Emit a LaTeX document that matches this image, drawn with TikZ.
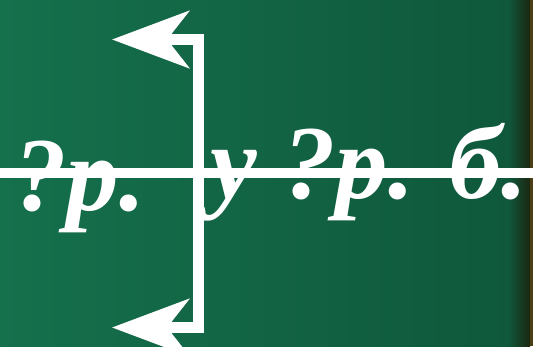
\documentclass[tikz,border=0pt]{standalone}
\usepackage{fontspec}
\newfontfamily\boardfont{Liberation Serif}[UprightFont={* Bold Italic}]
\usetikzlibrary{arrows.meta}
\definecolor{boardleft}{RGB}{21,112,76}
\definecolor{boardright}{RGB}{15,88,60}
\definecolor{boardedge}{RGB}{28,38,16}
\definecolor{frame}{RGB}{75,62,22}

\begin{document}
\begin{tikzpicture}[x=1pt,y=-1pt,>={Stealth[length=77pt,width=57pt,inset=22pt]},
  chalk/.style={white,line width=11pt},
  word/.style={white,anchor=base west,inner sep=0pt,font=\boardfont\fontsize{105}{105}\selectfont}]
  \useasboundingbox (0,0) rectangle (533,346);
  % board
  \shade[left color=boardleft,right color=boardright] (0,0) rectangle (508,346);
  \shade[left color=boardright,right color=boardedge] (508,0) rectangle (530,346);
  \fill[frame] (530,0) rectangle (533,346);
  % lines
  \coordinate (west) at (0,173);
  \coordinate (east) at (533,173);
  \coordinate (top) at (198.5,39.5);
  \coordinate (bottom) at (198.5,327.5);
  \coordinate (uptip) at (112,39.5);
  \coordinate (downtip) at (112,327.5);
  \draw[chalk,line width=10pt] (west) -- (east);
  \draw[chalk,<->] (uptip) -- (top) -- (bottom) -- (downtip);
  % words
  \node[word] (left) at (14,210) {?р.};
  \node[word] (right) at (210,198) {у ?р. б.};
\end{tikzpicture}
\end{document}
